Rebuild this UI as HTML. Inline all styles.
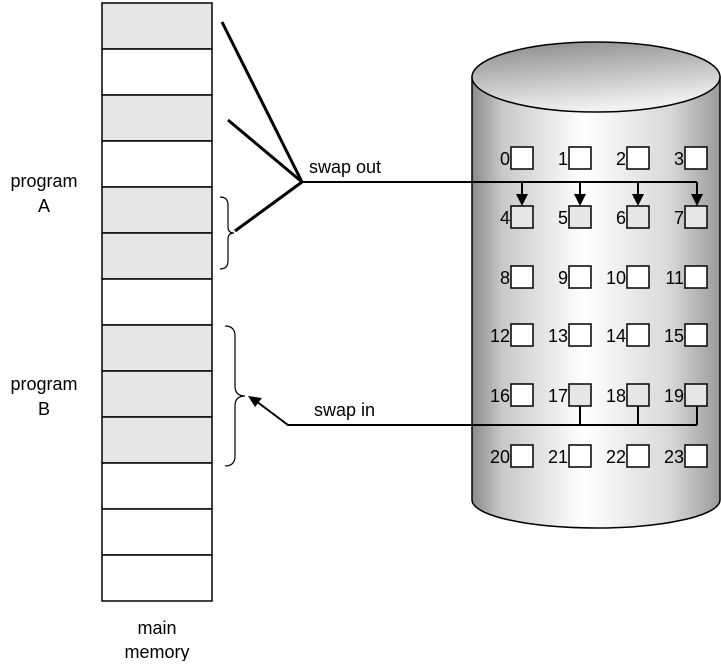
<!DOCTYPE html>
<html><head><style>body{margin:0;background:#fff}</style></head><body>
<svg width="721" height="661" xmlns="http://www.w3.org/2000/svg" font-family="Liberation Sans, sans-serif" font-size="18">
<defs>
<linearGradient id="cy" x1="0" x2="1" y1="0" y2="0">
<stop offset="0" stop-color="#8a8a8a"/><stop offset="0.12" stop-color="#c8c8c8"/><stop offset="0.45" stop-color="#ffffff"/><stop offset="0.8" stop-color="#d8d8d8"/><stop offset="1" stop-color="#9a9a9a"/></linearGradient>
<linearGradient id="top" x1="0" x2="0.3" y1="0" y2="1">
<stop offset="0" stop-color="#888"/><stop offset="1" stop-color="#f0f0f0"/></linearGradient>
</defs>
<g stroke="#000" stroke-width="1.5">
<rect x="102" y="3" width="110" height="46" fill="#e6e6e6"/>
<rect x="102" y="49" width="110" height="46" fill="#fff"/>
<rect x="102" y="95" width="110" height="46" fill="#e6e6e6"/>
<rect x="102" y="141" width="110" height="46" fill="#fff"/>
<rect x="102" y="187" width="110" height="46" fill="#e6e6e6"/>
<rect x="102" y="233" width="110" height="46" fill="#e6e6e6"/>
<rect x="102" y="279" width="110" height="46" fill="#fff"/>
<rect x="102" y="325" width="110" height="46" fill="#e6e6e6"/>
<rect x="102" y="371" width="110" height="46" fill="#e6e6e6"/>
<rect x="102" y="417" width="110" height="46" fill="#e6e6e6"/>
<rect x="102" y="463" width="110" height="46" fill="#fff"/>
<rect x="102" y="509" width="110" height="46" fill="#fff"/>
<rect x="102" y="555" width="110" height="46" fill="#fff"/>
</g>
<path d="M472 77 L472 500 A124 28 0 0 0 720 500 L720 77 Z" fill="url(#cy)" stroke="#000" stroke-width="1.5"/>
<ellipse cx="596" cy="77" rx="124" ry="35" fill="url(#top)" stroke="#000" stroke-width="1.5"/>
<g fill="none" stroke="#000" stroke-width="1.2">
<path d="M220 197 q8 0 8 8 v22 q0 6 6 6 q-6 0 -6 6 v22 q0 8 -8 8"/>
<path d="M225 326 q10 0 10 10 v50 q0 10 10 10 q-10 0 -10 10 v50 q0 10 -10 10"/>
</g>
<g stroke="#000" stroke-width="3" fill="none">
<line x1="222" y1="22" x2="302" y2="182"/>
<line x1="228" y1="120" x2="302" y2="182"/>
<line x1="235" y1="231" x2="302" y2="182"/>
</g>
<g stroke="#000" stroke-width="2" fill="none">
<path d="M302 182 L697 182"/>
<line x1="522" y1="182" x2="522" y2="196"/><line x1="580" y1="182" x2="580" y2="196"/>
<line x1="638" y1="182" x2="638" y2="196"/><line x1="697" y1="182" x2="697" y2="196"/>
<path d="M580 406 V425 M638 406 V425 M697 406 V425 M697 425 H288 L256 401"/>
</g>
<g fill="#000">
<path d="M516 194 h12 l-6 12z"/><path d="M574 194 h12 l-6 12z"/>
<path d="M632 194 h12 l-6 12z"/><path d="M691 194 h12 l-6 12z"/>
<path d="M248 396 l14 2 l-7 9z"/>
</g>
<g stroke="#000" stroke-width="1.5">
<g fill="#fff">
<rect x="511" y="147" width="22" height="22"/><rect x="569" y="147" width="22" height="22"/><rect x="627" y="147" width="22" height="22"/><rect x="685" y="147" width="22" height="22"/>
</g>
<g fill="#e6e6e6">
<rect x="511" y="206" width="22" height="22"/><rect x="569" y="206" width="22" height="22"/><rect x="627" y="206" width="22" height="22"/><rect x="685" y="206" width="22" height="22"/>
</g>
<g fill="#fff">
<rect x="511" y="266" width="22" height="22"/><rect x="569" y="266" width="22" height="22"/><rect x="627" y="266" width="22" height="22"/><rect x="685" y="266" width="22" height="22"/>
<rect x="511" y="324" width="22" height="22"/><rect x="569" y="324" width="22" height="22"/><rect x="627" y="324" width="22" height="22"/><rect x="685" y="324" width="22" height="22"/>
<rect x="511" y="384" width="22" height="22"/>
<rect x="511" y="445" width="22" height="22"/><rect x="569" y="445" width="22" height="22"/><rect x="627" y="445" width="22" height="22"/><rect x="685" y="445" width="22" height="22"/>
</g>
<g fill="#e6e6e6">
<rect x="569" y="384" width="22" height="22"/><rect x="627" y="384" width="22" height="22"/><rect x="685" y="384" width="22" height="22"/>
</g>
</g>
<g text-anchor="end" fill="#000">
<text x="510" y="165">0</text><text x="568" y="165">1</text><text x="626" y="165">2</text><text x="684" y="165">3</text>
<text x="510" y="224">4</text><text x="568" y="224">5</text><text x="626" y="224">6</text><text x="684" y="224">7</text>
<text x="510" y="284">8</text><text x="568" y="284">9</text><text x="626" y="284">10</text><text x="684" y="284">11</text>
<text x="510" y="342">12</text><text x="568" y="342">13</text><text x="626" y="342">14</text><text x="684" y="342">15</text>
<text x="510" y="402">16</text><text x="568" y="402">17</text><text x="626" y="402">18</text><text x="684" y="402">19</text>
<text x="510" y="463">20</text><text x="568" y="463">21</text><text x="626" y="463">22</text><text x="684" y="463">23</text>
</g>
<g text-anchor="middle">
<text x="44" y="187">program</text><text x="44" y="212">A</text>
<text x="44" y="390">program</text><text x="44" y="415">B</text>
<text x="157" y="634">main</text><text x="157" y="658">memory</text>
</g>
<text x="309" y="173">swap out</text>
<text x="314" y="416">swap in</text>
</svg>
</body></html>
